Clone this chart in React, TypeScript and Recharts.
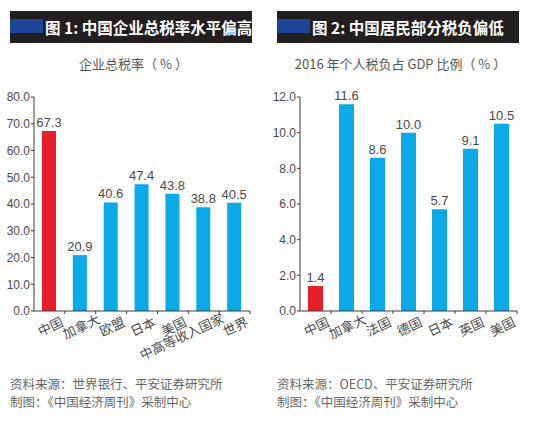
import React from "react";
import { BarChart, Bar, XAxis, YAxis, Cell, LabelList } from "recharts";

// 图 1：企业总税率（%）
const corpCountries = ["中国", "加拿大", "欧盟", "日本", "美国", "中高等收入国家", "世界"];
const corpTaxRates = [67.3, 20.9, 40.6, 47.4, 43.8, 38.8, 40.5];
const corpTicks = [0, 10, 20, 30, 40, 50, 60, 70, 80];

// 图 2：2016 年个人税负占 GDP 比例（%）
const personalCountries = ["中国", "加拿大", "法国", "德国", "日本", "英国", "美国"];
const personalTaxShares = [1.4, 11.6, 8.6, 10.0, 5.7, 9.1, 10.5];
const personalTicks = [0, 2, 4, 6, 8, 10, 12];

const RED = "#e61e29";
const BLUE = "#0aa9e7";
const AXIS = "#3a3a3a";
const TEXT = "#4a4a4a";
const NUM_FONT = "'Liberation Sans', 'Noto Sans CJK SC', sans-serif";
const CJK_FONT = "'Noto Sans CJK SC', sans-serif";

const fmt = (v: any) => Number(v).toFixed(1);

const CategoryTick = (props: any) => {
  const { x, y, payload, band } = props;
  const label: string = payload.value;
  const long = label.length > 4;
  const dx = long ? -20 : 3;
  const dy = long ? 30 : 20;
  return (
    <g>
      <line x1={x + band / 2} x2={x + band / 2} y1={y} y2={y + 3} stroke={AXIS} />
      <text
        transform={`translate(${x + dx},${y + dy}) rotate(-25)`}
        textAnchor="middle"
        fill={TEXT}
        fontSize={13}
        fontFamily={CJK_FONT}
      >
        {label}
      </text>
    </g>
  );
};

const Panel = ({
  left,
  title,
  subtitle,
  source,
  categories,
  values,
  ticks,
  barSize,
  band,
  marginLeft,
}: any) => {
  const data = categories.map((name: string, i: number) => ({ name, value: values[i] }));
  const max = ticks[ticks.length - 1];
  return (
    <div style={{ position: "absolute", left, top: 0, width: 267, height: 423 }}>
      <div
        style={{
          position: "absolute",
          left: 10,
          top: 11,
          width: 242,
          height: 32,
          background: "#231f20",
        }}
      />
      <div
        style={{
          position: "absolute",
          left: 10,
          top: 19,
          width: 33,
          height: 14,
          background: "#1c4597",
        }}
      />
      <div
        style={{
          position: "absolute",
          left: 45,
          top: 11,
          height: 32,
          lineHeight: "32px",
          color: "#fff",
          fontWeight: 700,
          fontSize: 15.5,
          fontFamily: CJK_FONT,
          whiteSpace: "nowrap",
        }}
      >
        {title}
      </div>
      <div
        style={{
          position: "absolute",
          left: 0,
          width: 267,
          top: 54,
          textAlign: "center",
          fontSize: 13,
          color: "#555",
          fontFamily: CJK_FONT,
          whiteSpace: "nowrap",
        }}
      >
        {subtitle}
      </div>
      <BarChart
        width={267}
        height={423}
        data={data}
        margin={{ top: 97, right: 17, bottom: 82, left: marginLeft }}
        barCategoryGap={0}
        style={{ position: "absolute", left: 0, top: 0 }}
      >
        <YAxis
          width={30}
          domain={[0, max]}
          ticks={ticks}
          interval={0}
          tickFormatter={fmt}
          tickSize={3}
          tickMargin={1}
          axisLine={{ stroke: AXIS }}
          tickLine={{ stroke: AXIS }}
          tick={{ fill: TEXT, fontSize: 12, fontFamily: NUM_FONT }}
        />
        <XAxis
          dataKey="name"
          height={30}
          interval={0}
          tickSize={0}
          tickMargin={0}
          axisLine={{ stroke: AXIS }}
          tickLine={false}
          tick={<CategoryTick band={band} />}
        />
        <Bar dataKey="value" barSize={barSize} isAnimationActive={false}>
          {data.map((_: any, i: number) => (
            <Cell key={i} fill={i === 0 ? RED : BLUE} />
          ))}
          <LabelList
            dataKey="value"
            position="top"
            offset={4}
            formatter={fmt}
            fill={TEXT}
            fontSize={13}
            fontFamily={NUM_FONT}
          />
        </Bar>
      </BarChart>
      <div
        style={{
          position: "absolute",
          left: 10,
          top: 375,
          fontSize: 12.5,
          lineHeight: "18px",
          color: "#666",
          fontFamily: CJK_FONT,
          whiteSpace: "nowrap",
        }}
      >
        {source.map((line: string, i: number) => (
          <div key={i}>{line}</div>
        ))}
      </div>
    </div>
  );
};

export default function App() {
  return (
    <div
      style={{
        position: "absolute",
        left: 0,
        top: 0,
        width: 534,
        height: 423,
        background: "#fff",
        overflow: "hidden",
      }}
    >
      <Panel
        left={0}
        title="图 1: 中国企业总税率水平偏高"
        subtitle="企业总税率（ % ）"
        source={["资料来源：世界银行、平安证券研究所", "制图：《中国经济周刊》采制中心"]}
        categories={corpCountries}
        values={corpTaxRates}
        ticks={corpTicks}
        barSize={14}
        band={216 / 7}
        marginLeft={4}
      />
      <Panel
        left={267}
        title="图 2: 中国居民部分税负偏低"
        subtitle="2016 年个人税负占 GDP 比例（ % ）"
        source={["资料来源：OECD、平安证券研究所", "制图：《中国经济周刊》采制中心"]}
        categories={personalCountries}
        values={personalTaxShares}
        ticks={personalTicks}
        barSize={15}
        band={217 / 7}
        marginLeft={3}
      />
    </div>
  );
}
